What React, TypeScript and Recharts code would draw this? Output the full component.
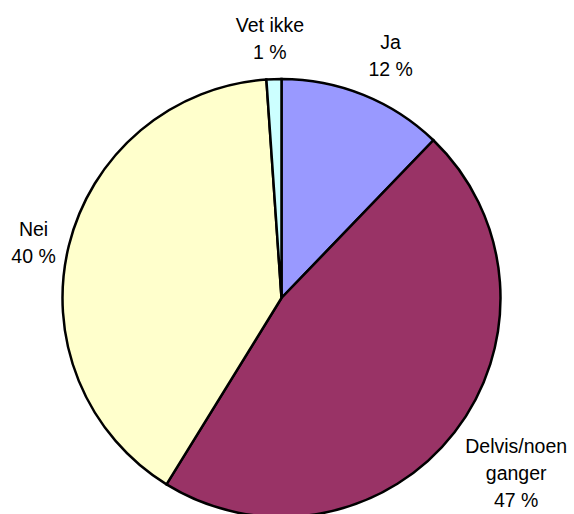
import React from 'react';
import { PieChart, Pie, Cell } from 'recharts';

const categories = ['Ja', 'Delvis/noen ganger', 'Nei', 'Vet ikke'];
const values = [12.2, 46.6, 40.1, 1.1];
const colors = ['#9999FF', '#993366', '#FFFFCC', '#CCFFFF'];

const data = categories.map((name, i) => ({ name, value: values[i] }));

const FONT_SIZE = 19.5;
const FONT_FAMILY = '"Liberation Sans", Arial, sans-serif';
const LINE_H = 27;
const GAP = 13.5;
const WRAP_WIDTH = 110;

let ctx: CanvasRenderingContext2D | null = null;
function measure(t: string): number {
  if (!ctx && typeof document !== 'undefined') {
    const c = document.createElement('canvas');
    ctx = c.getContext('2d');
  }
  if (ctx) {
    ctx.font = `${FONT_SIZE}px ${FONT_FAMILY}`;
    return ctx.measureText(t).width;
  }
  return t.length * FONT_SIZE * 0.55;
}

function wrap(text: string): string[] {
  const words = text.split(' ');
  const lines: string[] = [];
  let cur = '';
  for (const w of words) {
    const test = cur ? cur + ' ' + w : w;
    if (cur && measure(test) > WRAP_WIDTH) {
      lines.push(cur);
      cur = w;
    } else {
      cur = test;
    }
  }
  if (cur) lines.push(cur);
  return lines;
}

const clamp = (v: number, a: number, b: number) => Math.max(a, Math.min(b, v));

const renderLabel = (props: any) => {
  const cx = Number(props.cx);
  const cy = Number(props.cy);
  const midAngle = Number(props.midAngle);
  const outerRadius = Number(props.outerRadius);
  const index = props.index as number;
  const RAD = Math.PI / 180;
  const ux = Math.cos(-midAngle * RAD);
  const uy = Math.sin(-midAngle * RAD);
  const lines = [...wrap(categories[index]), `${Math.round(values[index])} %`];
  const w = Math.max(...lines.map(measure));
  const hw = w / 2;
  const hh = (lines.length * LINE_H) / 2;
  const ax = cx + (outerRadius + GAP) * ux;
  const ay = cy + (outerRadius + GAP) * uy;
  const sx = clamp(ux * 3, -1, 1);
  const sy = Math.sign(uy) * clamp((Math.abs(uy) - 0.25) * 2.2, 0, 1);
  const bx = ax + hw * sx;
  const by = ay + hh * sy;
  const top = by - ((lines.length - 1) * LINE_H) / 2;
  return (
    <text
      key={`lbl-${index}`}
      textAnchor="middle"
      fill="#000"
      fontSize={FONT_SIZE}
      fontFamily={FONT_FAMILY}
    >
      {lines.map((l, i) => (
        <tspan key={i} x={bx} y={top + i * LINE_H + FONT_SIZE * 0.36}>
          {l}
        </tspan>
      ))}
    </text>
  );
};

export default function App() {
  return (
    <div style={{ position: 'absolute', left: 0, top: 0, width: 574, height: 514, background: '#fff' }}>
      <PieChart width={574} height={514} margin={{ top: 0, right: 0, bottom: 0, left: 0 }}>
        <Pie
          data={data}
          dataKey="value"
          nameKey="name"
          cx={281.5}
          cy={298}
          outerRadius={219}
          startAngle={90}
          endAngle={-270}
          stroke="#000"
          strokeWidth={2.5}
          label={renderLabel}
          labelLine={false}
          isAnimationActive={false}
        >
          {data.map((d, i) => (
            <Cell key={d.name} fill={colors[i]} stroke="#000" strokeWidth={2.5} />
          ))}
        </Pie>
      </PieChart>
    </div>
  );
}
